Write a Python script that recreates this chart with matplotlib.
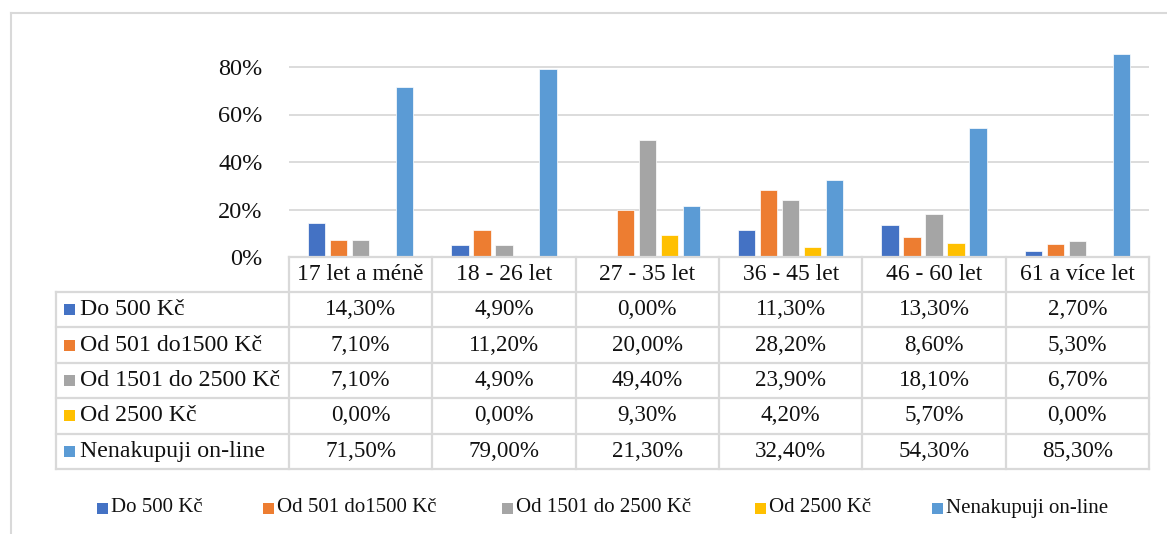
import matplotlib
matplotlib.use("Agg")
import matplotlib.pyplot as plt
from matplotlib.lines import Line2D
from matplotlib.patches import Rectangle
from matplotlib.transforms import blended_transform_factory
import numpy as np

categories = ["17 let a méně", "18 - 26 let", "27 - 35 let", "36 - 45 let", "46 - 60 let", "61 a více let"]
series_names = ["Do 500 Kč", "Od 501 do1500 Kč", "Od 1501 do 2500 Kč", "Od 2500 Kč", "Nenakupuji on-line"]
do500 = [14.3, 4.9, 0.0, 11.3, 13.3, 2.7]
od501 = [7.1, 11.2, 20.0, 28.2, 8.6, 5.3]
od1501 = [7.1, 4.9, 49.4, 23.9, 18.1, 6.7]
od2500 = [0.0, 0.0, 9.3, 4.2, 5.7, 0.0]
nenakupuji = [71.5, 79.0, 21.3, 32.4, 54.3, 85.3]
series_values = [do500, od501, od1501, od2500, nenakupuji]
colors = ["#4472C4", "#ED7D31", "#A5A5A5", "#FFC000", "#5B9BD5"]
yticks = [0, 20, 40, 60, 80]

plt.rcParams['font.family'] = ['Liberation Serif', 'DejaVu Serif']

W, H = 1167, 534
fig = plt.figure(figsize=(W / 100, H / 100), dpi=100)

def fx(x):
    return x / W

def fy(y):
    return 1 - y / H

ax_left, ax_right = 289, 1149
y0, y80 = 257, 67
px_per = (y0 - y80) / 80.0
ymax = 90
ax_top = y0 - ymax * px_per
ax = fig.add_axes([fx(ax_left), fy(y0), fx(ax_right - ax_left), (y0 - ax_top) / H])

n = len(categories)
x = np.arange(n)
pitch = 0.1535
bw = 0.123
for i, (vals, c) in enumerate(zip(series_values, colors)):
    ax.bar(x + (i - 2) * pitch, vals, width=bw, color=c, edgecolor="white",
           linewidth=0.5, zorder=3)

ax.set_xlim(-0.5, n - 0.5)
ax.set_ylim(0, ymax)
ax.set_yticks(yticks)
ax.set_yticklabels([f"{v}%" for v in yticks], fontsize=17.5, color="#111111")
ax.tick_params(axis="y", length=0, pad=19)
ax.set_xticks([])
for s in ax.spines.values():
    s.set_visible(False)
grid_c = "#D9D9D9"
ax.yaxis.grid(True, color=grid_c, linewidth=1.3, zorder=0)
ax.set_axisbelow(True)

# chart frame
fig.add_artist(Line2D([fx(11), fx(11)], [fy(13), fy(H + 5)], transform=fig.transFigure,
                      color=grid_c, linewidth=1.5))
fig.add_artist(Line2D([fx(11), fx(W + 5)], [fy(13), fy(13)], transform=fig.transFigure,
                      color=grid_c, linewidth=1.5))

# data table
tr = blended_transform_factory(ax.transAxes, fig.transFigure)
header_top, header_bot = 257, 292
row_h = 35.4
rows_bot = header_bot + row_h * len(series_names)
tlw = 1.6
fig.add_artist(Line2D([0, 1], [fy(header_top)] * 2, transform=tr, color=grid_c, linewidth=tlw))
for r in range(len(series_names) + 1):
    yy = header_bot + r * row_h
    fig.add_artist(Line2D([fx(56), fx(ax_right)], [fy(yy)] * 2, transform=fig.transFigure,
                          color=grid_c, linewidth=tlw))
for c in range(n + 1):
    fig.add_artist(Line2D([c / n, c / n], [fy(header_top), fy(rows_bot)], transform=tr,
                          color=grid_c, linewidth=tlw))
fig.add_artist(Line2D([fx(56), fx(56)], [fy(header_bot), fy(rows_bot)], transform=fig.transFigure,
                      color=grid_c, linewidth=tlw))

for c, cat in enumerate(categories):
    fig.text((c + 0.5) / n, fy((header_top + header_bot) / 2), cat, transform=tr,
             ha="center", va="center", fontsize=17, color="#111111")
for r, (name, vals, col) in enumerate(zip(series_names, series_values, colors)):
    yc = header_bot + (r + 0.5) * row_h
    fig.add_artist(Rectangle((fx(64), fy(yc + 5.5)), fx(11), 11 / H, transform=fig.transFigure,
                             facecolor=col, edgecolor="none"))
    fig.text(fx(80), fy(yc), name, ha="left", va="center", fontsize=17.2, color="#111111")
    for c, v in enumerate(vals):
        fig.text((c + 0.5) / n, fy(yc), f"{v:.2f}%".replace(".", ","), transform=tr,
                 ha="center", va="center", fontsize=16.6, color="#111111")

# legend
leg_x = [97, 263, 502, 755, 932]
leg_y = 508
for lx, name, col in zip(leg_x, series_names, colors):
    fig.add_artist(Rectangle((fx(lx), fy(leg_y + 5.5)), fx(10.5), 10.5 / H,
                             transform=fig.transFigure, facecolor=col, edgecolor="none"))
    fig.text(fx(lx + 14), fy(leg_y), name, ha="left", va="center", fontsize=15, color="#111111")

fig.savefig("out.png", dpi=100)
